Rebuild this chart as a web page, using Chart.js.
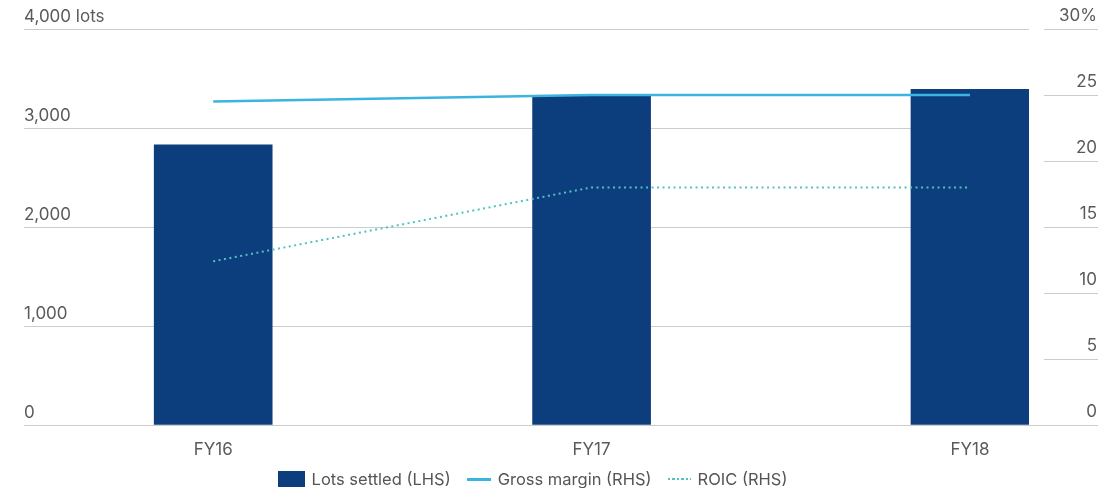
<!DOCTYPE html>
<html>
<head>
<meta charset="utf-8">
<script src="https://cdn.jsdelivr.net/npm/chart.js@4"></script>
<style>
  body { margin: 0; background: #fff; font-family: Inter, "Noto Sans", sans-serif; }
  #wrap { position: relative; width: 1117px; height: 488px; }
  #legend {
    position: absolute; left: 24px; width: 1017px; top: 469px; height: 20px;
    display: flex; justify-content: center; align-items: center;
    font-size: 16.5px; color: #555;
  }
  #legend span.item { display: flex; align-items: center; margin: 0 8px; }
  .swatch { display: inline-block; margin-right: 7px; }
  .sw-bar { width: 27px; height: 16px; background: #0c3d7c; }
  .sw-line { width: 24px; height: 3px; background: #3cb4e0; }
  .sw-dots { width: 23px; height: 2px; background: repeating-linear-gradient(90deg, #52c2bd 0 2px, transparent 2px 4.5px); }
</style>
</head>
<body>
<div id="wrap">
  <canvas id="chart" width="1117" height="488"></canvas>
  <div id="legend">
    <span class="item"><span class="swatch sw-bar"></span>Lots settled (LHS)</span>
    <span class="item"><span class="swatch sw-line"></span>Gross margin (RHS)</span>
    <span class="item"><span class="swatch sw-dots"></span>ROIC (RHS)</span>
  </div>
</div>
<script>
const categories = ["FY16", "FY17", "FY18"];
const lotsSettled = [2830, 3320, 3390];
const grossMargin = [24.5, 25, 25];
const roic = [12.4, 18, 18];
const lotTicks = [0, 1000, 2000, 3000, 4000];
const pctTicks = [0, 5, 10, 15, 20, 25, 30];

const textColor = "#5a5a5a";
const gridColor = "#cccccc";
const font = { family: "Inter, 'Noto Sans', sans-serif", size: 17 };

// pair each value with its category position on the linear x axis
const points = (vals) => vals.map((v, i) => ({ x: i, y: v }));

// short grid lines + labels for the right-hand % axis, and the baseline under it
const rightAxis = {
  id: "rightAxis",
  beforeDatasetsDraw(chart) {
    const { ctx, chartArea, scales } = chart;
    const r = scales.y1;
    ctx.save();
    ctx.strokeStyle = gridColor;
    ctx.lineWidth = 1;
    pctTicks.forEach((v) => {
      const y = Math.round(r.getPixelForValue(v)) + 0.5;
      ctx.beginPath();
      ctx.moveTo(v === 0 ? chartArea.right : r.left + 15, y);
      ctx.lineTo(r.right, y);
      ctx.stroke();
    });
    ctx.restore();
  },
  afterDraw(chart) {
    const { ctx, scales } = chart;
    const r = scales.y1;
    ctx.save();
    ctx.font = `${font.size}px ${font.family}`;
    ctx.fillStyle = textColor;
    ctx.textAlign = "right";
    ctx.textBaseline = "middle";
    pctTicks.forEach((v) => {
      const label = v === 30 ? "30%" : String(v);
      ctx.fillText(label, r.right - 1, r.getPixelForValue(v) - 13);
    });
    ctx.restore();
  },
};

new Chart("chart", {
  data: {
    datasets: [
      {
        type: "line",
        label: "Gross margin (RHS)",
        data: points(grossMargin),
        yAxisID: "y1",
        borderColor: "#3cb4e0",
        borderWidth: 2.5,
        pointRadius: 0,
        order: 0,
      },
      {
        type: "line",
        label: "ROIC (RHS)",
        data: points(roic),
        yAxisID: "y1",
        borderColor: "#52c2bd",
        borderWidth: 2,
        borderDash: [2, 3.5],
        pointRadius: 0,
        order: 0,
      },
      {
        type: "bar",
        label: "Lots settled (LHS)",
        data: points(lotsSettled),
        yAxisID: "y",
        backgroundColor: "#0c3d7c",
        barThickness: 118,
        order: 1,
      },
    ],
  },
  options: {
    responsive: false,
    animation: false,
    layout: { padding: { left: 24, right: 19, top: 29, bottom: 0 } },
    plugins: {
      legend: { display: false },
      tooltip: { enabled: false },
    },
    scales: {
      x: {
        type: "linear",
        offset: false,
        min: -0.5,
        max: 2.156,
        afterBuildTicks: (s) => {
          s.ticks = categories.map((c, i) => ({ value: i }));
        },
        afterFit: (s) => {
          s.height = 63;
        },
        ticks: {
          callback: (v) => categories[v],
          color: textColor,
          font: font,
          padding: 7,
          maxRotation: 0,
          autoSkip: false,
        },
        grid: { display: false },
        border: { display: false },
      },
      y: {
        position: "left",
        min: 0,
        max: 4000,
        afterBuildTicks: (s) => {
          s.ticks = lotTicks.map((v) => ({ value: v }));
        },
        afterFit: (s) => {
          s.width = 0;
        },
        ticks: {
          mirror: true,
          padding: 0,
          labelOffset: -12,
          color: textColor,
          font: font,
          callback: (v) => (v === 4000 ? "4,000 lots" : v.toLocaleString("en-US")),
        },
        grid: { color: gridColor, drawTicks: false },
        border: { display: false },
      },
      y1: {
        position: "right",
        min: 0,
        max: 30,
        afterFit: (s) => {
          s.width = 69;
        },
        ticks: { display: false },
        grid: { display: false },
        border: { display: false },
      },
    },
  },
  plugins: [rightAxis],
});
</script>
</body>
</html>
